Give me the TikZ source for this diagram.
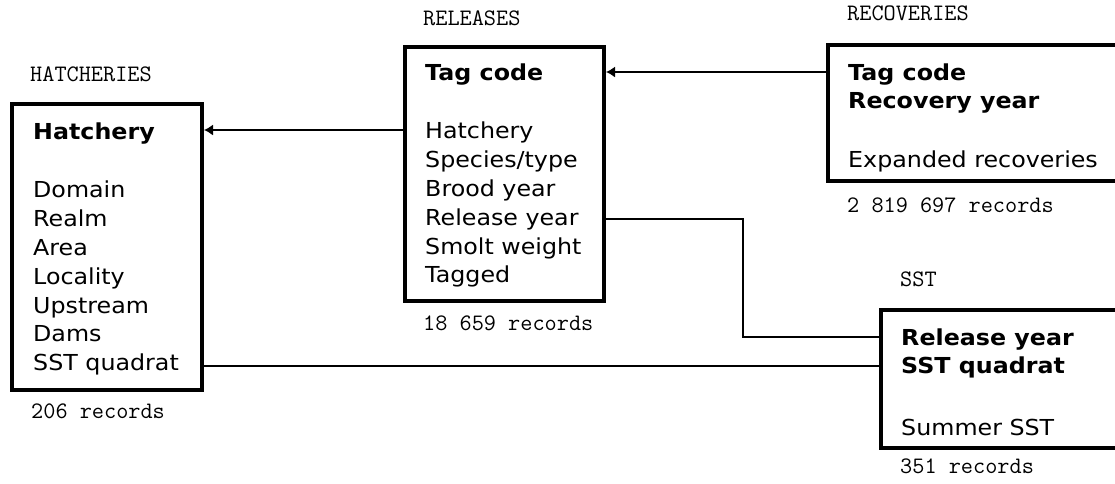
\documentclass[tikz,border=0pt]{standalone}
\usepackage{fontspec}
\setmainfont{DejaVu Sans}[FakeStretch=1.08]
\usetikzlibrary{arrows.meta}
\newcommand\lblfont{\ttfamily\fontsize{23.6}{28}\selectfont}
\begin{document}
\begin{tikzpicture}[x=1pt,y=-1pt,
  box/.style={draw, line width=4pt, inner sep=0pt},
  txt/.style={anchor=base west, inner sep=0pt, align=left, font=\fontsize{22}{28.8}\selectfont},
  lbl/.style={anchor=base west, inner sep=0pt, font=\lblfont},
  conn/.style={line width=1.4pt},
  arr/.style={conn, -{Latex[length=9pt,width=11pt]}}]
\useasboundingbox (0,0) rectangle (1115,483);
\begin{scope}
\clip (0,0) rectangle (1115,483);
% boxes
\node[box, minimum width=190pt, minimum height=286pt] (hat) at (107,247) {};
\node[box, minimum width=199pt, minimum height=254pt] (rel) at (504.5,174) {};
\node[box, minimum width=302pt, minimum height=136pt] (rec) at (979,113) {};
\node[box, minimum width=249pt, minimum height=138pt] (sst) at (1005.5,379) {};
\end{scope}
% titles
\node[lbl] (hatT) at (30,81) {HATCHERIES};
\node[lbl] (relT) at (423,25) {RELEASES};
\node[lbl] (recT) at (847,20) {RECOVERIES};
\node[lbl] (sstT) at (900,286) {SST};
% record counts
\node[lbl] (hatN) at (31,418) {206 records};
\node[lbl] (relN) at (423,330) {18 659 records};
\node[lbl] (recN) at (847,212) {2 819 697 records};
\node[lbl] (sstN) at (900,473) {351 records};
% contents
\node[txt] (hatC) at (33,139) {\begin{tabular}[t]{@{}l@{}}\textbf{Hatchery}\\[30pt]
Domain\\ Realm\\ Area\\ Locality\\ Upstream\\ Dams\\ SST quadrat\end{tabular}};
\node[txt] (relC) at (425,80) {\begin{tabular}[t]{@{}l@{}}\textbf{Tag code}\\[30pt]
Hatchery\\ Species/type\\ Brood year\\ Release year\\ Smolt weight\\ Tagged\end{tabular}};
\node[txt] (recC) at (848,80) {\begin{tabular}[t]{@{}l@{}}\textbf{Tag code}\\
\textbf{Recovery year}\\[30pt] Expanded recoveries\end{tabular}};
\node[txt] (sstC) at (901,345) {\begin{tabular}[t]{@{}l@{}}\textbf{Release year}\\
\textbf{SST quadrat}\\[33pt] Summer SST\end{tabular}};
% connector levels
\coordinate (yA) at (0,72);
\coordinate (yB) at (0,130);
\coordinate (yC) at (0,219);
\coordinate (bend) at (743,337);
\coordinate (yD) at (0,366);
% connectors
\draw[arr] (rec.west |- yA) -- (rel.east |- yA);
\draw[arr] (rel.west |- yB) -- (hat.east |- yB);
\draw[conn] (rel.east |- yC) -| (bend) -- (sst.west |- bend);
\draw[conn] (hat.east |- yD) -- (sst.west |- yD);
\end{tikzpicture}
\end{document}
